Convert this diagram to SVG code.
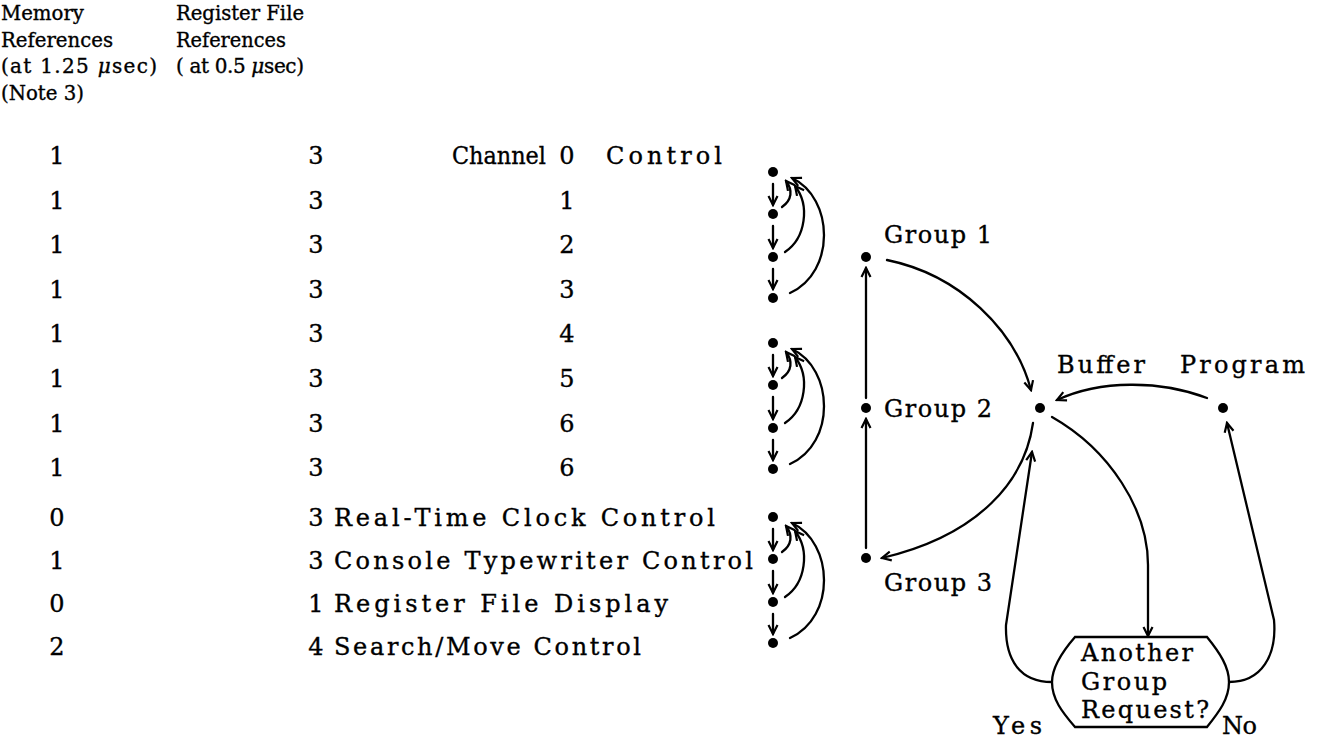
<svg xmlns="http://www.w3.org/2000/svg" width="1319" height="740" viewBox="0 0 1319 740">
<style>
text{font-family:"DejaVu Serif","Liberation Serif",serif;fill:#000;stroke:#000;stroke-width:0.35}
.h{font-size:20px}
.b{font-size:24px}
.n{font-size:24px;text-anchor:middle}
.c{fill:none;stroke:#000;stroke-width:2.3;stroke-linecap:round}
.a{marker-end:url(#ah)}
.d{fill:#000}
</style>
<defs>
<marker id="ah" markerUnits="userSpaceOnUse" markerWidth="14" markerHeight="14" viewBox="-12 -7 14 14" refX="0" refY="0" orient="auto"><path d="M-9,-4.5 L0,0 L-9,4.5" fill="none" stroke="#000" stroke-width="2.2"/></marker>
</defs>
<rect width="1319" height="740" fill="#fff"/>

<g id="headers">
<text class="h" x="1" y="20" textLength="83" lengthAdjust="spacingAndGlyphs">Memory</text>
<text class="h" x="1" y="47" textLength="112" lengthAdjust="spacingAndGlyphs">References</text>
<text class="h" x="1" y="73" textLength="156" lengthAdjust="spacing">(at 1.25 <tspan font-style="italic">μ</tspan>sec)</text>
<text class="h" x="1" y="100" textLength="83" lengthAdjust="spacingAndGlyphs">(Note 3)</text>
<text class="h" x="176" y="20" textLength="128" lengthAdjust="spacingAndGlyphs">Register File</text>
<text class="h" x="176" y="47" textLength="110" lengthAdjust="spacingAndGlyphs">References</text>
<text class="h" x="176" y="73" textLength="128" lengthAdjust="spacing">( at 0.5 <tspan font-style="italic">μ</tspan>sec)</text>
</g>

<g id="table">
<g id="row1"><text class="n" x="57" y="164">1</text><text class="n" x="316" y="164">3</text><text class="b" x="452" y="164" textLength="94" lengthAdjust="spacingAndGlyphs">Channel</text><text class="n" x="567" y="164">0</text><text class="b" x="606" y="164" textLength="116" lengthAdjust="spacing">Control</text></g>
<g id="row2"><text class="n" x="57" y="209">1</text><text class="n" x="316" y="209">3</text><text class="n" x="567" y="209">1</text></g>
<g id="row3"><text class="n" x="57" y="253">1</text><text class="n" x="316" y="253">3</text><text class="n" x="567" y="253">2</text></g>
<g id="row4"><text class="n" x="57" y="298">1</text><text class="n" x="316" y="298">3</text><text class="n" x="567" y="298">3</text></g>
<g id="row5"><text class="n" x="57" y="342">1</text><text class="n" x="316" y="342">3</text><text class="n" x="567" y="342">4</text></g>
<g id="row6"><text class="n" x="57" y="387">1</text><text class="n" x="316" y="387">3</text><text class="n" x="567" y="387">5</text></g>
<g id="row7"><text class="n" x="57" y="432">1</text><text class="n" x="316" y="432">3</text><text class="n" x="567" y="432">6</text></g>
<g id="row8"><text class="n" x="57" y="476">1</text><text class="n" x="316" y="476">3</text><text class="n" x="567" y="476">6</text></g>
<g id="row9"><text class="n" x="57" y="526">0</text><text class="n" x="316" y="526">3</text><text class="b" x="334" y="526" textLength="381" lengthAdjust="spacing">Real-Time Clock Control</text></g>
<g id="row10"><text class="n" x="57" y="569">1</text><text class="n" x="316" y="569">3</text><text class="b" x="334" y="569" textLength="419" lengthAdjust="spacing">Console Typewriter Control</text></g>
<g id="row11"><text class="n" x="57" y="612">0</text><text class="n" x="316" y="612">1</text><text class="b" x="334" y="612" textLength="334" lengthAdjust="spacing">Register File Display</text></g>
<g id="row12"><text class="n" x="57" y="655">2</text><text class="n" x="316" y="655">4</text><text class="b" x="334" y="655" textLength="307" lengthAdjust="spacing">Search/Move Control</text></g>
</g>

<g id="channel-dots">
<circle class="d" cx="773" cy="172" r="5"/><circle class="d" cx="773" cy="214" r="5"/><circle class="d" cx="773" cy="257" r="5"/><circle class="d" cx="773" cy="298" r="5"/>
<circle class="d" cx="773" cy="343" r="5"/><circle class="d" cx="773" cy="385" r="5"/><circle class="d" cx="773" cy="428" r="5"/><circle class="d" cx="773" cy="469" r="5"/>
<circle class="d" cx="773" cy="517" r="5"/><circle class="d" cx="773" cy="559" r="5"/><circle class="d" cx="773" cy="602" r="5"/><circle class="d" cx="773" cy="643" r="5"/>
</g>

<g id="group1"><circle class="d" cx="866" cy="257" r="5"/><text class="b" x="884" y="243" textLength="108" lengthAdjust="spacing">Group 1</text></g>
<g id="group2"><circle class="d" cx="866" cy="408" r="5"/><text class="b" x="884" y="417" textLength="108" lengthAdjust="spacing">Group 2</text></g>
<g id="group3"><circle class="d" cx="866" cy="558" r="5"/><text class="b" x="884" y="591" textLength="108" lengthAdjust="spacing">Group 3</text></g>
<g id="buffer"><circle class="d" cx="1040" cy="408" r="5"/><text class="b" x="1057" y="373" textLength="88" lengthAdjust="spacing">Buffer</text></g>
<g id="program"><circle class="d" cx="1223" cy="408" r="5"/><text class="b" x="1180" y="373" textLength="125" lengthAdjust="spacing">Program</text></g>
<g id="decision">
<path d="M1075,637 L1207,637 C1220,653 1229,667 1229,682 C1229,699 1219,712 1207,727 L1075,727 C1062,712 1052,699 1052,682 C1052,667 1062,652 1075,637 Z" fill="#fff" stroke="#000" stroke-width="2.3"/>
<text class="b" x="1081" y="661" textLength="112" lengthAdjust="spacing">Another</text>
<text class="b" x="1081" y="690" textLength="86" lengthAdjust="spacing">Group</text>
<text class="b" x="1081" y="718" textLength="128" lengthAdjust="spacing">Request?</text>
</g>
<g id="labels-yes-no">
<text class="b" x="993" y="734" textLength="49" lengthAdjust="spacing">Yes</text>
<text class="b" x="1222" y="734" textLength="35" lengthAdjust="spacing">No</text>
</g>

<g id="connectors">
<g id="chain-a">
<line class="c a" x1="773" y1="184" x2="773" y2="205"/>
<line class="c a" x1="773" y1="226" x2="773" y2="248"/>
<line class="c a" x1="773" y1="269" x2="773" y2="289"/>
<path class="c a" d="M782,207 C792,200 793,190 786,181"/>
<path class="c a" d="M785,252 C806,238 810,205 795,186"/>
<path class="c a" d="M790,293 C836,272 834,198 792,178"/>
</g>
<g id="chain-b" transform="translate(0,171)">
<line class="c a" x1="773" y1="184" x2="773" y2="205"/>
<line class="c a" x1="773" y1="226" x2="773" y2="248"/>
<line class="c a" x1="773" y1="269" x2="773" y2="289"/>
<path class="c a" d="M782,207 C792,200 793,190 786,181"/>
<path class="c a" d="M785,252 C806,238 810,205 795,186"/>
<path class="c a" d="M790,293 C836,272 834,198 792,178"/>
</g>
<g id="chain-c" transform="translate(0,345)">
<line class="c a" x1="773" y1="184" x2="773" y2="205"/>
<line class="c a" x1="773" y1="226" x2="773" y2="248"/>
<line class="c a" x1="773" y1="269" x2="773" y2="289"/>
<path class="c a" d="M782,207 C792,200 793,190 786,181"/>
<path class="c a" d="M785,252 C806,238 810,205 795,186"/>
<path class="c a" d="M790,293 C836,272 834,198 792,178"/>
</g>
<line class="c a" x1="866" y1="398" x2="866" y2="268"/>
<line class="c a" x1="866" y1="548" x2="866" y2="419"/>
<path class="c a" d="M887,260 C960,275 1015,330 1031,390"/>
<path class="c a" d="M1207,398 C1160,380 1100,380 1057,400"/>
<path class="c a" d="M1033,423 C1025,480 980,535 882,558"/>
<path class="c a" d="M1052,417 C1110,450 1148,510 1148,565 L1148,636"/>
<path class="c a" d="M1052,682 C1020,682 1005,660 1006,625 L1032,452"/>
<path class="c a" d="M1229,682 C1262,682 1277,655 1274,620 L1227,423"/>
</g>
</svg>
